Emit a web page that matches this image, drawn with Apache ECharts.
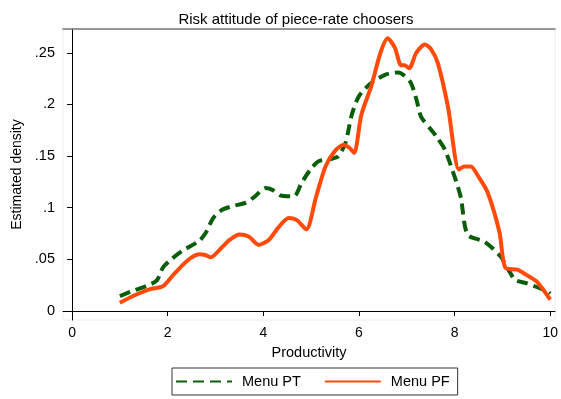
<!DOCTYPE html>
<html>
<head>
<meta charset="utf-8">
<script src="https://cdn.jsdelivr.net/npm/echarts@6/dist/echarts.min.js"></script>
<style>
  html, body { margin: 0; padding: 0; background: #fff; }
  #chart { width: 561px; height: 399px; }
</style>
</head>
<body>
<div id="chart"></div>
<script>
// tick labels
const xTicks = [0, 2, 4, 6, 8, 10]
const yTicks = [0, 0.05, 0.1, 0.15, 0.2, 0.25]

// Menu PT (dashed green)
const ptX = [1.0, 1.3, 1.65, 1.78, 1.9, 2.1, 2.3, 2.66, 2.8, 2.95, 3.14, 3.4, 3.64, 3.8, 4.05, 4.2,
  4.35, 4.64, 4.8, 5.0, 5.16, 5.4, 5.57, 5.72, 5.85, 6.0, 6.26, 6.57, 6.82, 7.07, 7.2, 7.3,
  7.5, 7.65, 7.8, 8.0, 8.13, 8.27, 8.63, 8.96, 9.1, 9.27, 9.5, 9.94, 10.0]
const ptY = [0.0145, 0.020, 0.026, 0.030, 0.042, 0.051, 0.058, 0.068, 0.076, 0.090, 0.098, 0.102,
  0.105, 0.110, 0.119, 0.117, 0.112, 0.111, 0.124, 0.138, 0.145, 0.147, 0.150, 0.163, 0.190,
  0.208, 0.221, 0.229, 0.231, 0.222, 0.205, 0.188, 0.176, 0.167, 0.156, 0.130, 0.110, 0.074,
  0.067, 0.053, 0.042, 0.030, 0.027, 0.019, 0.017]

// Menu PF (solid orange)
const pfX = [1.0, 1.3, 1.62, 1.9, 2.1, 2.3, 2.5, 2.66, 2.8, 2.9, 3.14, 3.3, 3.5, 3.7, 3.9, 4.12,
  4.3, 4.53, 4.7, 4.9, 5.1, 5.3, 5.5, 5.68, 5.8, 5.9, 6.05, 6.26, 6.45, 6.6, 6.75, 6.88, 6.95,
  7.05, 7.2, 7.38, 7.5, 7.65, 7.86, 8.09, 8.2, 8.34, 8.5, 8.69, 8.94, 9.06, 9.31, 9.5, 9.73, 10.0]
const pfY = [0.008, 0.015, 0.021, 0.024, 0.034, 0.044, 0.052, 0.055, 0.054, 0.052, 0.062, 0.069,
  0.074, 0.072, 0.064, 0.069, 0.080, 0.090, 0.088, 0.079, 0.110, 0.140, 0.155, 0.161, 0.158,
  0.153, 0.190, 0.218, 0.250, 0.264, 0.255, 0.238, 0.238, 0.235, 0.250, 0.258, 0.254, 0.240,
  0.198, 0.137, 0.140, 0.140, 0.130, 0.115, 0.076, 0.042, 0.040, 0.035, 0.028, 0.011]

const pair = (xs, ys) => xs.map((x, i) => [x, ys[i]])
const fontFamily = 'Liberation Sans, Arial, sans-serif'

const chart = echarts.init(document.getElementById('chart'))
chart.setOption({
  animation: false,
  backgroundColor: '#fff',
  textStyle: { fontFamily },
  title: {
    text: 'Risk attitude of piece-rate choosers',
    left: 291,
    textAlign: 'center',
    top: 7,
    textStyle: { fontSize: 15, fontWeight: 'normal', color: '#000', fontFamily },
  },
  grid: {
    left: 63, right: 3, top: 29, bottom: 79,
    show: true, borderColor: '#ececec', borderWidth: 1,
  },
  legend: {
    left: 172, top: 368,
    itemWidth: 56, itemHeight: 6, itemGap: 23,
    padding: [6, 8, 6, 3],
    borderColor: '#333', borderWidth: 1,
    itemStyle: { opacity: 0, color: 'rgba(0,0,0,0)', borderWidth: 0 },
    textStyle: { fontSize: 14.5, color: '#000', fontFamily, padding: [0, 0, 0, 5] },
    data: ['Menu PT', 'Menu PF'],
  },
  xAxis: [
    {
      type: 'value',
      min: -0.19, max: 10.1,
      name: 'Productivity',
      nameLocation: 'middle',
      nameGap: 25,
      nameTextStyle: { fontSize: 14.5, color: '#000' },
      axisLine: { show: true, lineStyle: { color: '#000', width: 1 } },
      axisTick: { show: true, length: 5, customValues: xTicks, lineStyle: { color: '#000' } },
      axisLabel: { customValues: xTicks, fontSize: 14, color: '#000', margin: 6 },
      splitLine: { show: false },
    },
    {
      // top frame line of the plot region
      type: 'value',
      position: 'top',
      min: -0.19, max: 10.1,
      axisLine: { show: true, lineStyle: { color: '#777', width: 1.5 } },
      axisTick: { show: false },
      axisLabel: { show: false },
      splitLine: { show: false },
    },
  ],
  yAxis: {
    type: 'value',
    min: -0.0087, max: 0.273,
    name: 'Estimated density',
    nameLocation: 'middle',
    nameGap: 38,
    nameTextStyle: { fontSize: 14, color: '#000' },
    axisLine: { show: true, lineStyle: { color: '#000', width: 1 } },
    axisTick: { show: true, length: 5, customValues: yTicks, lineStyle: { color: '#000' } },
    axisLabel: {
      customValues: yTicks, fontSize: 14.5, color: '#000', margin: 8,
      formatter: (v) => (v === 0 ? '0' : String(+v.toFixed(2)).replace(/^0\./, '.')),
    },
    splitLine: { show: false },
  },
  series: [
    {
      name: 'Menu PT',
      type: 'line',
      data: pair(ptX, ptY),
      smooth: 0.25,
      symbol: 'none',
      color: '#0a5e0a',
      lineStyle: { width: 4, type: [11, 6], color: '#0a5e0a' },
      z: 2,
    },
    {
      name: 'Menu PF',
      type: 'line',
      data: pair(pfX, pfY),
      smooth: 0.25,
      symbol: 'none',
      color: '#ff4a0a',
      lineStyle: { width: 4, color: '#ff4a0a' },
      z: 3,
    },
  ],
})
</script>
</body>
</html>
